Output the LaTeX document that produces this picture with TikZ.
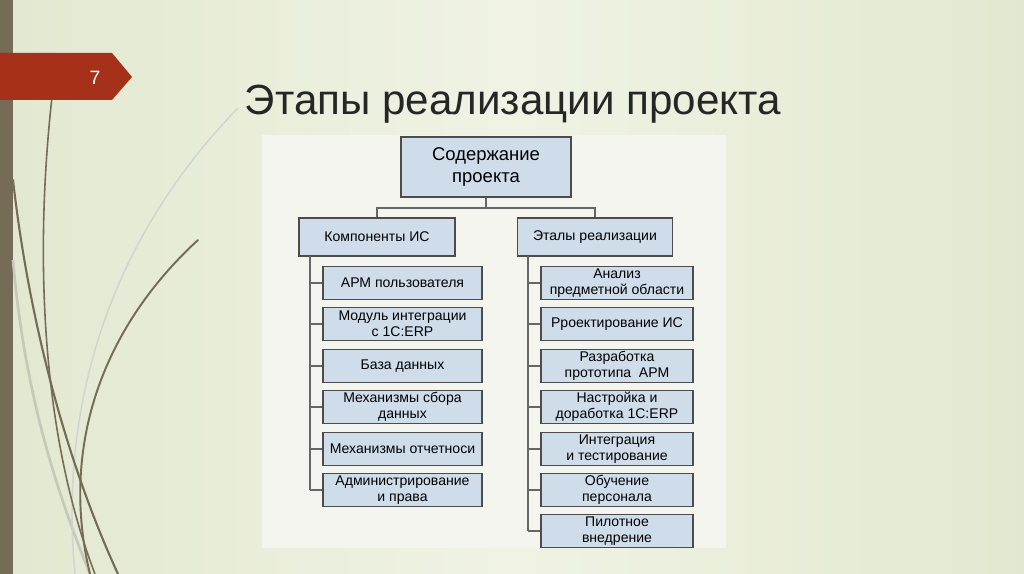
\documentclass[tikz,border=0pt]{standalone}
\usepackage{fontspec}
\setmainfont{Liberation Sans}
\newfontfamily\titlefont{Liberation Sans}
\definecolor{bgA}{RGB}{226,232,208}
\definecolor{bgB}{RGB}{240,243,228}
\definecolor{boxfill}{RGB}{207,221,235}
\definecolor{barc}{RGB}{117,107,86}
\definecolor{tabc}{RGB}{165,49,26}
\definecolor{panel}{RGB}{243,245,238}
\begin{document}
\begin{tikzpicture}[x=0.02cm,y=-0.02cm,
  box/.style={draw=black!70,fill=boxfill,line width=0.7pt,align=center,inner sep=0pt,font=\fontsize{8}{9}\selectfont},
  conn/.style={draw=black!60,line width=0.6pt},
  deco/.style={draw=barc,line cap=round}]
\useasboundingbox (0,0) rectangle (1024,574);
\shade[left color=bgA, right color=bgA, middle color=bgB] (0,0) rectangle (1024,574);
\fill[barc] (0,0) rectangle (13,574);
% decorative curves
\draw[draw=bgA!70!gray,line width=1.5pt] (13,260) .. controls (25,400) and (60,500) .. (90,574);
\draw[draw=gray!35,line width=0.8pt] (238,108) .. controls (100,250) and (60,420) .. (75,574);
\draw[deco,line width=1.2pt] (13,180) .. controls (30,330) and (70,470) .. (118,574);
\draw[deco,line width=0.9pt] (52,97) .. controls (35,250) and (40,430) .. (95,574);
\draw[deco,line width=1.1pt] (198,240) .. controls (100,330) and (60,450) .. (90,574);
\fill[tabc] (0,53) -- (112,53) -- (132,77) -- (112,100) -- (0,100) -- cycle;
\node[text=white,font=\titlefont\fontsize{11}{12}\selectfont] (num) at (95,78) {7};
\node[font=\titlefont\fontsize{24}{27}\selectfont,text=black!85] (title) at (513,104) {Этапы реализации проекта};
\fill[panel] (262,135) rectangle (726,548);
\node[box,minimum width=170*0.02cm,minimum height=60*0.02cm,font=\fontsize{10.5}{12}\selectfont] (top) at (486,167) {Содержание\\проекта};
\node[box,minimum width=156*0.02cm,minimum height=38*0.02cm] (L) at (377,237) {Компоненты ИС};
\node[box,minimum width=155*0.02cm,minimum height=38*0.02cm] (R) at (595,237) {Эталы реализации};
\draw[conn] (top.south) -- (486,208) coordinate (j) -- (377,208) -- (L.north);
\draw[conn] (j) -- (595,208) -- (R.north);
\foreach \n/\y/\t in {1/283/{АРМ пользователя},2/324/{Модуль интеграции\\с 1С:ERP},3/366/{База данных},4/407/{Механизмы сбора\\данных},5/449/{Механизмы отчетноси},6/490/{Администрирование\\и права}}{
  \node[box,minimum width=159*0.02cm,minimum height=33*0.02cm] (l\n) at (402.5,\y) {\t};
  \draw[conn] (310,\y) -- (l\n.west);
}
\draw[conn] (310,256) -- (310,490);
\foreach \n/\y/\t in {1/283/{Анализ\\предметной области},2/324/{Рроектирование ИС},3/366/{Разработка\\прототипа~ АРМ},4/407/{Настройка и\\доработка 1С:ERP},5/449/{Интеграция\\и тестирование},6/490/{Обучение\\персонала},7/531/{Пилотное\\внедрение}}{
  \node[box,minimum width=152*0.02cm,minimum height=33*0.02cm] (r\n) at (617,\y) {\t};
  \draw[conn] (528,\y) -- (r\n.west);
}
\draw[conn] (528,256) -- (528,531);
\end{tikzpicture}
\end{document}
